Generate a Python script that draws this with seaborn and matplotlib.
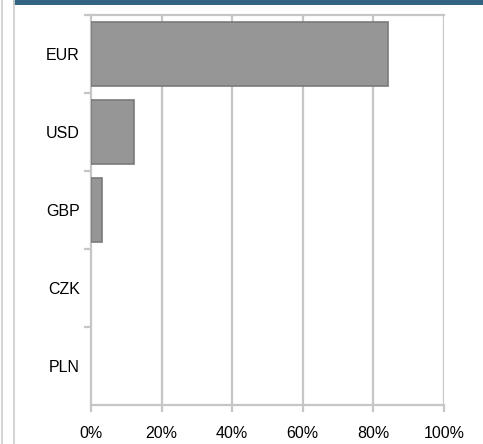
import matplotlib
matplotlib.use("Agg")
import matplotlib.pyplot as plt
import seaborn as sns
import pandas as pd
from matplotlib.patches import Rectangle
from matplotlib.lines import Line2D

currencies = ["EUR", "USD", "GBP", "CZK", "PLN"]
shares = [84.0, 12.2, 3.1, 0.0, 0.0]
xticks = [0, 20, 40, 60, 80, 100]
xtick_labels = ["0%", "20%", "40%", "60%", "80%", "100%"]

df = pd.DataFrame({"currency": currencies, "share": shares})

sns.set_theme(style="white")
plt.rcParams["font.family"] = ["Liberation Sans", "DejaVu Sans"]

W, H = 483, 444
fig = plt.figure(figsize=(W / 100, H / 100), dpi=100)
ax = fig.add_axes([91 / W, (H - 405) / H, (444 - 91) / W, (405 - 15) / H])

grid_c = "#c6c6c6"
sns.barplot(data=df, x="share", y="currency", orient="h", color="#969696",
            saturation=1, width=0.82, edgecolor="#7a7a7a", linewidth=1.2, ax=ax, zorder=3)
for p in ax.patches:
    if p.get_width() == 0:
        p.set_linewidth(0)

ax.set_xlim(0, 100)
ax.set_ylim(4.5, -0.5)
ax.set_xticks(xticks)
ax.set_xticklabels(xtick_labels)
ax.set_xlabel("")
ax.set_ylabel("")
ax.grid(False)
for v in xticks[1:]:
    ax.axvline(v, color=grid_c, lw=1.6, zorder=1)

for s in ["left", "bottom", "top"]:
    ax.spines[s].set_visible(True)
    ax.spines[s].set_color(grid_c)
    ax.spines[s].set_linewidth(1.6)
ax.spines["right"].set_visible(False)

ax.tick_params(axis="x", direction="out", length=5, width=1.6, color=grid_c,
               pad=10, labelsize=11.5, labelcolor="#000000", bottom=True)
ax.tick_params(axis="y", which="major", length=0, pad=8, labelsize=11.5,
               labelcolor="#000000", left=True)
ax.set_yticks([-0.5, 0.5, 1.5, 2.5, 3.5], minor=True)
ax.tick_params(axis="y", which="minor", direction="out", length=5, width=1.6,
               color=grid_c, left=True)

# frame lines and banner
fig.add_artist(Line2D([1.5 / W, 1.5 / W], [0, 1], color="#cfcfcf", lw=1.3, transform=fig.transFigure))
fig.add_artist(Line2D([13.5 / W, 13.5 / W], [0, 1], color="#cfcfcf", lw=1.3, transform=fig.transFigure))
fig.add_artist(Rectangle((12.5 / W, (H - 5) / H), (W - 12.5) / W, 5 / H, transform=fig.transFigure,
                         facecolor="#336482", edgecolor="none"))

fig.savefig("out.png", dpi=100)
